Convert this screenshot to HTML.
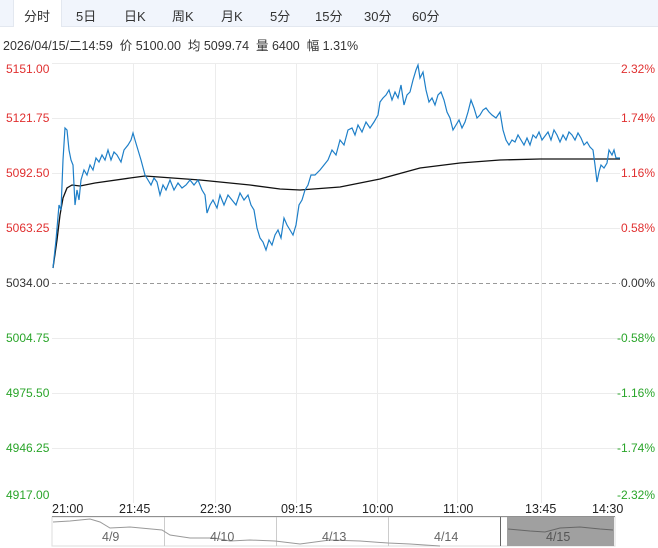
<!DOCTYPE html>
<html><head><meta charset="utf-8"><style>
body{margin:0;width:658px;height:548px;background:#fff;font-family:"Liberation Sans","Noto Sans CJK SC",sans-serif;overflow:hidden;position:relative}
.tabs{position:absolute;left:0;top:0;width:658px;height:26px;background:#f1f5fc;border-bottom:1px solid #e3e8f0}
.tab{position:absolute;top:6px;font-size:13px;color:#333}
.sel{position:absolute;left:13px;top:0;width:47px;height:27px;background:#fff;border-left:1px solid #e3e8f0;border-right:1px solid #e3e8f0}
.info{position:absolute;left:3px;top:35px;font-size:12.5px;color:#333}
</style></head><body>
<div class="tabs"><div class="sel"></div>
<span class="tab" style="left:24px">分时</span><span class="tab" style="left:76px">5日</span><span class="tab" style="left:124px">日K</span><span class="tab" style="left:172px">周K</span><span class="tab" style="left:221px">月K</span><span class="tab" style="left:270px">5分</span><span class="tab" style="left:315px">15分</span><span class="tab" style="left:364px">30分</span><span class="tab" style="left:412px">60分</span></div>
<div class="info">2026/04/15/二14:59&nbsp; 价 5100.00&nbsp; 均 5099.74&nbsp; 量 6400&nbsp; 幅 1.31%</div>
<svg width="658" height="548" style="position:absolute;left:0;top:0" font-family="Liberation Sans, sans-serif" font-size="12">
<g stroke="#ececec" stroke-width="1">
<line x1="52" y1="63.5" x2="620" y2="63.5"/><line x1="52" y1="118.5" x2="620" y2="118.5"/><line x1="52" y1="173.5" x2="620" y2="173.5"/><line x1="52" y1="228.5" x2="620" y2="228.5"/>
<line x1="52" y1="338.5" x2="620" y2="338.5"/><line x1="52" y1="393.5" x2="620" y2="393.5"/><line x1="52" y1="448.5" x2="620" y2="448.5"/>
<line x1="133.5" y1="63" x2="133.5" y2="503"/><line x1="215.5" y1="63" x2="215.5" y2="503"/><line x1="296.5" y1="63" x2="296.5" y2="503"/><line x1="377.5" y1="63" x2="377.5" y2="503"/><line x1="457.5" y1="63" x2="457.5" y2="503"/><line x1="541.5" y1="63" x2="541.5" y2="503"/>
</g>
<line x1="52" y1="283.5" x2="620" y2="283.5" stroke="#999" stroke-dasharray="4,3"/>
<g fill="#e03030"><text x="6" y="73">5151.00</text><text x="6" y="122">5121.75</text><text x="6" y="177">5092.50</text><text x="6" y="232">5063.25</text></g>
<text x="6" y="287" fill="#333">5034.00</text>
<g fill="#2aa52a"><text x="6" y="342">5004.75</text><text x="6" y="397">4975.50</text><text x="6" y="452">4946.25</text><text x="6" y="499">4917.00</text></g>
<g fill="#e03030" text-anchor="end"><text x="655" y="73">2.32%</text><text x="655" y="122">1.74%</text><text x="655" y="177">1.16%</text><text x="655" y="232">0.58%</text></g>
<text x="655" y="287" fill="#333" text-anchor="end">0.00%</text>
<g fill="#2aa52a" text-anchor="end"><text x="655" y="342">-0.58%</text><text x="655" y="397">-1.16%</text><text x="655" y="452">-1.74%</text><text x="655" y="499">-2.32%</text></g>
<polyline fill="none" stroke="#111" stroke-width="1.3" points="53,268 57,240 60,215 63,198 67,188 72,185 80,186 95,183 130,178 145,176 200,180 250,185 280,189 300,190 340,187 380,179 420,168 460,163 500,160 540,159 620,159"/>
<polyline fill="none" stroke="#1e7fc8" stroke-width="1.2" points="53,268 56,240 59,205 61,210 63,160 65,128 67,130 69,150 71,160 73,165 75,205 77,190 79,200 81,180 84,170 87,175 90,165 93,170 96,158 99,162 102,155 105,160 108,150 111,160 114,152 117,155 121,162 124,150 128,145 131,140 133,133 135,140 138,150 141,160 145,175 148,180 151,185 154,178 157,182 160,195 163,185 166,190 170,180 174,190 178,183 182,188 186,185 190,180 194,185 198,180 202,190 205,195 207,213 210,205 213,200 217,208 220,195 224,205 228,195 232,200 236,205 240,193 244,200 248,195 251,205 254,210 257,228 260,238 263,242 266,250 269,240 272,245 275,235 278,230 281,238 284,218 287,225 290,230 293,235 296,225 299,205 302,200 305,190 308,185 311,175 315,175 320,170 324,165 328,160 332,150 336,155 340,140 344,145 348,130 352,128 355,135 358,125 362,132 366,122 370,128 374,122 378,115 380,102 383,98 386,95 389,90 392,100 395,92 398,98 401,85 404,105 407,95 410,92 413,80 416,70 418,65 420,78 423,72 426,90 429,102 432,98 435,105 438,95 441,92 444,100 447,112 450,118 453,130 456,125 459,120 462,128 465,122 468,112 471,100 474,108 477,118 480,115 483,110 486,108 489,112 492,115 496,118 500,112 503,130 506,140 509,145 512,140 515,142 518,135 521,140 524,145 527,138 530,145 533,135 536,138 539,132 542,140 545,136 548,132 551,140 554,130 557,135 560,142 563,135 566,140 569,132 572,135 575,140 578,133 581,138 584,145 587,142 590,147 593,150 595,165 597,182 599,172 601,165 604,168 607,163 609,150 612,155 614,150 616,158 620,158"/>
<g fill="#222" font-size="12.5"><text x="52" y="513">21:00</text><text x="119" y="513">21:45</text><text x="200" y="513">22:30</text><text x="281" y="513">09:15</text><text x="362" y="513">10:00</text><text x="443" y="513">11:00</text><text x="525" y="513">13:45</text><text x="592" y="513">14:30</text></g>
<line x1="52" y1="516.5" x2="615" y2="516.5" stroke="#444"/>
<rect x="52" y="517" width="563" height="29" fill="none" stroke="#ddd"/>
<rect x="507" y="517" width="107" height="29" fill="#a0a0a0"/>
<g stroke="#ccc"><line x1="164.5" y1="517" x2="164.5" y2="546"/><line x1="276.5" y1="517" x2="276.5" y2="546"/><line x1="388.5" y1="517" x2="388.5" y2="546"/></g>
<line x1="500.5" y1="517" x2="500.5" y2="546" stroke="#666"/>
<polyline fill="none" stroke="#999" points="53,522 70,521 90,519 100,522 110,528 130,527 162,530 170,535 190,538 215,538 230,541 250,540 275,541 300,544 330,540 360,541 388,543 410,544 440,546"/>
<polyline fill="none" stroke="#666" points="508,529 530,531 545,532 560,528 580,527 600,529 613,530"/>
<g fill="#666" font-size="12.5"><text x="102" y="541">4/9</text><text x="210" y="541">4/10</text><text x="322" y="541">4/13</text><text x="434" y="541">4/14</text><text x="546" y="541" fill="#555">4/15</text></g>
</svg>
</body></html>
